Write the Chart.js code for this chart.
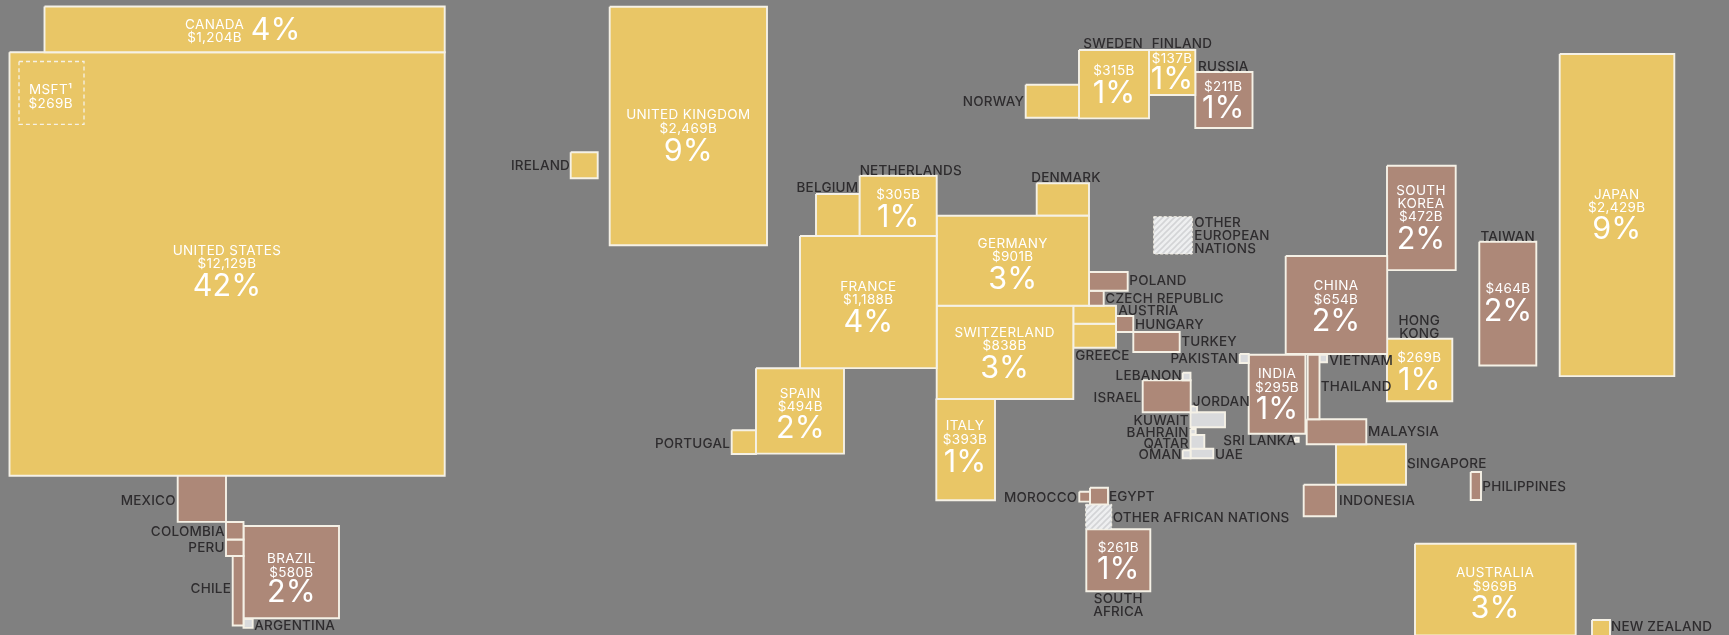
<!DOCTYPE html>
<html>
<head>
<meta charset="utf-8">
<title>Global stock market capitalisation by country</title>
<script src="https://cdn.jsdelivr.net/npm/chart.js@4/dist/chart.umd.min.js"></script>
<style>
    html, body { margin: 0; padding: 0; background: #808080; overflow: hidden; }
    canvas { display: block; }
</style>
</head>
<body>
<canvas id="capMap" width="1729" height="635"></canvas>
<script>
// Market cap in $B. Cell area is proportional to it; cells without a printed figure are estimates.
const regions = [
    'CANADA', 'UNITED STATES', 'MSFT', 'MEXICO', 'COLOMBIA', 'PERU', 'CHILE', 'BRAZIL', 'ARGENTINA',
    'UNITED KINGDOM', 'IRELAND', 'NETHERLANDS', 'BELGIUM', 'FRANCE', 'GERMANY', 'DENMARK', 'SWITZERLAND',
    'SPAIN', 'PORTUGAL', 'ITALY', 'NORWAY', 'SWEDEN', 'FINLAND', 'RUSSIA', 'OTHER EUROPEAN NATIONS',
    'POLAND', 'CZECH REPUBLIC', 'AUSTRIA', 'GREECE', 'HUNGARY', 'TURKEY', 'PAKISTAN', 'LEBANON', 'ISRAEL',
    'JORDAN', 'KUWAIT', 'BAHRAIN', 'QATAR', 'OMAN', 'UAE', 'INDIA', 'THAILAND', 'VIETNAM', 'CHINA',
    'SOUTH KOREA', 'HONG KONG', 'TAIWAN', 'JAPAN', 'MALAYSIA', 'SINGAPORE', 'INDONESIA', 'PHILIPPINES',
    'SRI LANKA', 'AUSTRALIA', 'NEW ZEALAND', 'MOROCCO', 'EGYPT', 'OTHER AFRICAN NATIONS', 'SOUTH AFRICA'
];
const marketCaps = [
    1204, 12129, 269, 149, 20.1, 19, 49.4, 580, 5.4,
    2469, 46.2, 305, 120.8, 1188, 901, 111.5, 838,
    494, 37.9, 393, 115.7, 315, 137, 211, 94.7,
    47.6, 14.5, 50.6, 67.4, 18.2, 61, 5.3, 3.9, 101,
    2.6, 34, 1.8, 12.4, 4.1, 14.4, 295, 50.1, 3.7, 654,
    472, 269, 464, 2429, 98, 186, 67.2, 19,
    1.05, 969, 21.3, 7, 19.7, 42.8, 261
];
const marketGroups = [
    'D', 'D', 'S', 'E', 'E', 'E', 'E', 'E', 'F',
    'D', 'D', 'D', 'D', 'D', 'D', 'D', 'D',
    'D', 'D', 'D', 'D', 'D', 'D', 'E', 'O',
    'E', 'E', 'D', 'D', 'E', 'E', 'F', 'F', 'E',
    'F', 'F', 'F', 'F', 'F', 'F', 'E', 'E', 'F', 'E',
    'E', 'D', 'E', 'D', 'E', 'D', 'E', 'E',
    'F', 'D', 'D', 'E', 'E', 'O', 'E'
];

// Map layout, in the units of the x and y scales
const cellLeft = [
    44.5, 9.5, 19, 177.7, 226, 226, 232.7, 243.5, 243.5,
    609.7, 570.7, 859.7, 816, 800, 936.7, 1036.7, 936.7,
    756, 731.7, 936.3, 1025.7, 1079, 1149, 1195.3, 1153.7,
    1089, 1089, 1073.3, 1073.3, 1116, 1133.3, 1239.7, 1182.7, 1142.7,
    1190.5, 1190.5, 1190.5, 1190.5, 1182.7, 1190.5, 1248.7, 1307.7, 1319.5, 1285.7,
    1387, 1387, 1479.3, 1559.7, 1306.7, 1336, 1303.7, 1470.7,
    1294.7, 1415, 1592, 1079.3, 1090, 1085.7, 1086.3
];
const cellTop = [
    6.5, 52.2, 61.5, 475, 522, 539.5, 556, 526, 619,
    6.7, 152.3, 175.7, 194, 236, 215.7, 183.3, 305.7,
    368.3, 430.3, 398.5, 84.7, 50, 50, 72, 216.7,
    272, 290.7, 305.7, 323.7, 316, 332, 354, 372.7, 380.3,
    406.3, 412.3, 429, 435, 450.3, 448.7, 354.7, 354.7, 354.7, 256,
    165.7, 338.7, 241.7, 54, 419.3, 444.3, 484.7, 472,
    437.7, 543.7, 620, 491.7, 487.7, 504.3, 529.3
];
const cellWidth = [
    400.2, 435.2, 65, 48.3, 17.5, 17.5, 10.8, 95.5, 9.2,
    157.3, 27, 77, 43.7, 136.7, 152.3, 52.3, 136.6,
    88, 24.3, 58.7, 53.3, 70, 46.3, 57.2, 38.6,
    38.7, 14.7, 42.7, 42.7, 17.3, 46.4, 9, 7.8, 48,
    6.5, 34.5, 5.2, 13.8, 7.8, 22.8, 56.7, 11.8, 7.5, 101.5,
    68.7, 65.3, 57, 114.6, 59.6, 70, 32.3, 10.3,
    4, 160.7, 18, 10.7, 18, 26, 64
];

// Figures printed inside the cells
const insideRegions = [
    'CANADA', 'UNITED STATES', 'MSFT', 'BRAZIL', 'UNITED KINGDOM', 'NETHERLANDS', 'FRANCE', 'GERMANY',
    'SWITZERLAND', 'SPAIN', 'ITALY', 'SWEDEN', 'FINLAND', 'RUSSIA', 'INDIA', 'CHINA', 'SOUTH KOREA',
    'HONG KONG', 'TAIWAN', 'JAPAN', 'AUSTRALIA', 'SOUTH AFRICA'
];
const insideNames = [
    ['CANADA'], ['UNITED STATES'], ['MSFT\u00B9'], ['BRAZIL'], ['UNITED KINGDOM'], [], ['FRANCE'], ['GERMANY'],
    ['SWITZERLAND'], ['SPAIN'], ['ITALY'], [], [], [], ['INDIA'], ['CHINA'], ['SOUTH', 'KOREA'],
    [], [], ['JAPAN'], ['AUSTRALIA'], []
];
const insideShares = [4, 42, null, 2, 9, 1, 4, 3, 3, 2, 1, 1, 1, 1, 1, 2, 2, 1, 2, 9, 3, 1];
const insideX = [
    214.6, 227, 50.7, 291.3, 688.3, 898.3, 868.3, 1012.7, 1004.6, 800.3, 965,
    1114, 1172, 1223.3, 1277, 1336, 1421, 1419.3, 1508, 1616.7, 1495, 1118.3
];
const insideY = [
    24, 250, 89.3, 558.3, 114.3, 193.7, 285.7, 242.7, 331.7, 392.7, 425.3,
    70.3, 58.3, 85.7, 373.3, 285.3, 189.7, 357.3, 288, 193.7, 572.3, 547
];
const shareX = [
    275.5, 227, null, 291.3, 688.3, 898.3, 868.3, 1012.7, 1004.6, 800.3, 965,
    1114, 1172, 1223.3, 1277, 1336, 1421, 1419.3, 1508, 1616.7, 1495, 1118.3
];
const shareY = [
    30.3, 285.7, null, 592, 150.7, 216.7, 321.7, 279, 368.3, 428.3, 461.7,
    93.3, 78.7, 107.7, 409, 321.3, 238.7, 380, 310.7, 229.3, 608.3, 569.3
];

// Names printed beside the cells
const calloutText = [
    'MEXICO', 'COLOMBIA', 'PERU', 'CHILE', 'ARGENTINA', 'IRELAND', 'BELGIUM', 'NETHERLANDS', 'PORTUGAL',
    'SWEDEN', 'FINLAND', 'RUSSIA', 'NORWAY', 'DENMARK', 'OTHER', 'EUROPEAN', 'NATIONS', 'POLAND',
    'CZECH REPUBLIC', 'AUSTRIA', 'HUNGARY', 'TURKEY', 'GREECE', 'PAKISTAN', 'LEBANON', 'ISRAEL', 'JORDAN',
    'KUWAIT', 'BAHRAIN', 'QATAR', 'OMAN', 'UAE', 'SRI LANKA', 'VIETNAM', 'THAILAND', 'HONG', 'KONG',
    'TAIWAN', 'MALAYSIA', 'SINGAPORE', 'PHILIPPINES', 'INDONESIA', 'NEW ZEALAND', 'MOROCCO', 'EGYPT',
    'OTHER AFRICAN NATIONS', 'SOUTH', 'AFRICA'
];
const calloutX = [
    175.7, 224.7, 224.7, 231, 254.3, 570, 858.3, 859.7, 730,
    1083.3, 1151.7, 1198, 1024, 1031.3, 1194.3, 1194.3, 1194.3, 1129.3,
    1105.3, 1118.3, 1135, 1181.3, 1075.3, 1238.3, 1182, 1141.3, 1192.7,
    1188.7, 1188.7, 1188.7, 1181.7, 1215, 1223.3, 1329.3, 1320.7, 1419.3, 1419.3,
    1507.7, 1368, 1407, 1482.3, 1339, 1611, 1077.3, 1109,
    1112.7, 1118.3, 1118.3
];
const calloutY = [
    499.7, 530.7, 547.3, 588, 625.3, 165, 187.3, 169.7, 443,
    43, 43, 66, 101, 177, 221.7, 235, 248.3, 280.3,
    298.3, 310.3, 323.7, 341.3, 355, 358, 374.7, 396.7, 401,
    419.7, 432, 442.7, 454.3, 454.3, 440, 360.3, 386, 320, 332.7,
    235.7, 431, 463, 485.7, 500, 626.3, 496.7, 496.3,
    517.3, 598.3, 611.3
];
const calloutAlign = [
    'right', 'right', 'right', 'right', 'left', 'right', 'right', 'left', 'right',
    'left', 'left', 'left', 'right', 'left', 'left', 'left', 'left', 'left',
    'left', 'left', 'left', 'left', 'left', 'right', 'right', 'right', 'left',
    'right', 'right', 'right', 'right', 'left', 'left', 'left', 'left', 'center', 'center',
    'center', 'left', 'left', 'left', 'left', 'left', 'right', 'left',
    'left', 'center', 'center'
];

const AREA_PER_BILLION = 15.2;
const FONT = 'Inter, "Open Sans", sans-serif';
const GROUP_FILL = { D: '#e9c666', E: '#ad8878', F: '#d9dadc', S: 'rgba(0,0,0,0)' };
const LINE_COLOR = '#f5f1e6';

function hatchPattern() {
    const tile = document.createElement('canvas');
    tile.width = 6;
    tile.height = 6;
    const c = tile.getContext('2d');
    c.fillStyle = '#eeeff0';
    c.fillRect(0, 0, 6, 6);
    c.strokeStyle = '#d3d4d6';
    c.lineWidth = 1.6;
    c.beginPath();
    c.moveTo(-1.5, 7.5); c.lineTo(7.5, -1.5);
    c.moveTo(-4.5, 4.5); c.lineTo(4.5, -4.5);
    c.moveTo(1.5, 10.5); c.lineTo(10.5, 1.5);
    c.stroke();
    return document.getElementById('capMap').getContext('2d').createPattern(tile, 'repeat');
}

const hatch = hatchPattern();

// each cell is a closed line: its height comes from the market cap and its width
const datasets = regions.map((name, i) => {
    const left = cellLeft[i];
    const right = left + cellWidth[i];
    const top = cellTop[i];
    const bottom = top + marketCaps[i] * AREA_PER_BILLION / cellWidth[i];
    const group = marketGroups[i];
    return {
        label: name,
        data: [
            { x: left, y: top }, { x: right, y: top }, { x: right, y: bottom },
            { x: left, y: bottom }, { x: left, y: top }
        ],
        showLine: true,
        fill: 'shape',
        tension: 0,
        pointRadius: 0,
        backgroundColor: group === 'O' ? hatch : GROUP_FILL[group],
        borderColor: LINE_COLOR,
        borderWidth: group === 'S' ? 1.3 : group === 'O' ? 1 : 1.9,
        borderDash: group === 'S' ? [4, 3] : group === 'O' ? [3, 2] : [],
        borderJoinStyle: 'miter',
        order: group === 'S' ? 0 : 1
    };
});

function formatCap(value) {
    return '$' + value.toLocaleString('en-US') + 'B';
}

const mapLabels = {
    id: 'mapLabels',
    afterDatasetsDraw(chart) {
        const { ctx, scales } = chart;
        // middle baseline sits a little high on these capitals
        const py = v => scales.y.getPixelForValue(v) + 1;
        ctx.save();
        ctx.textBaseline = 'middle';

        // dark names outside the cells
        ctx.fillStyle = '#2e2c2e';
        ctx.font = '500 13.5px ' + FONT;
        ctx.letterSpacing = '0.2px';
        calloutText.forEach((text, i) => {
            ctx.textAlign = calloutAlign[i];
            ctx.fillText(text, scales.x.getPixelForValue(calloutX[i]), py(calloutY[i]));
        });

        // white names, caps and shares inside them
        ctx.fillStyle = '#ffffff';
        ctx.textAlign = 'center';
        insideRegions.forEach((region, i) => {
            const cap = marketCaps[regions.indexOf(region)];
            const lines = insideNames[i].concat(formatCap(cap));
            const x = scales.x.getPixelForValue(insideX[i]);
            ctx.font = '400 13.5px ' + FONT;
            ctx.letterSpacing = '0.35px';
            lines.forEach((line, n) => {
                ctx.fillText(line, x, py(insideY[i] + n * 13.3));
            });
            if (insideShares[i] !== null) {
                ctx.font = '400 30.5px ' + FONT;
                ctx.letterSpacing = '0px';
                ctx.fillText(insideShares[i] + '%', scales.x.getPixelForValue(shareX[i]), py(shareY[i]));
            }
        });
        ctx.restore();
    }
};

new Chart(document.getElementById('capMap'), {
    type: 'scatter',
    data: { datasets: datasets },
    plugins: [mapLabels],
    options: {
        responsive: false,
        animation: false,
        events: [],
        layout: { padding: 0 },
        scales: {
            x: { type: 'linear', display: false, min: 0, max: 1729 },
            y: { type: 'linear', display: false, min: 0, max: 635, reverse: true }
        },
        plugins: {
            legend: { display: false },
            tooltip: { enabled: false }
        }
    }
});
</script>
</body>
</html>
